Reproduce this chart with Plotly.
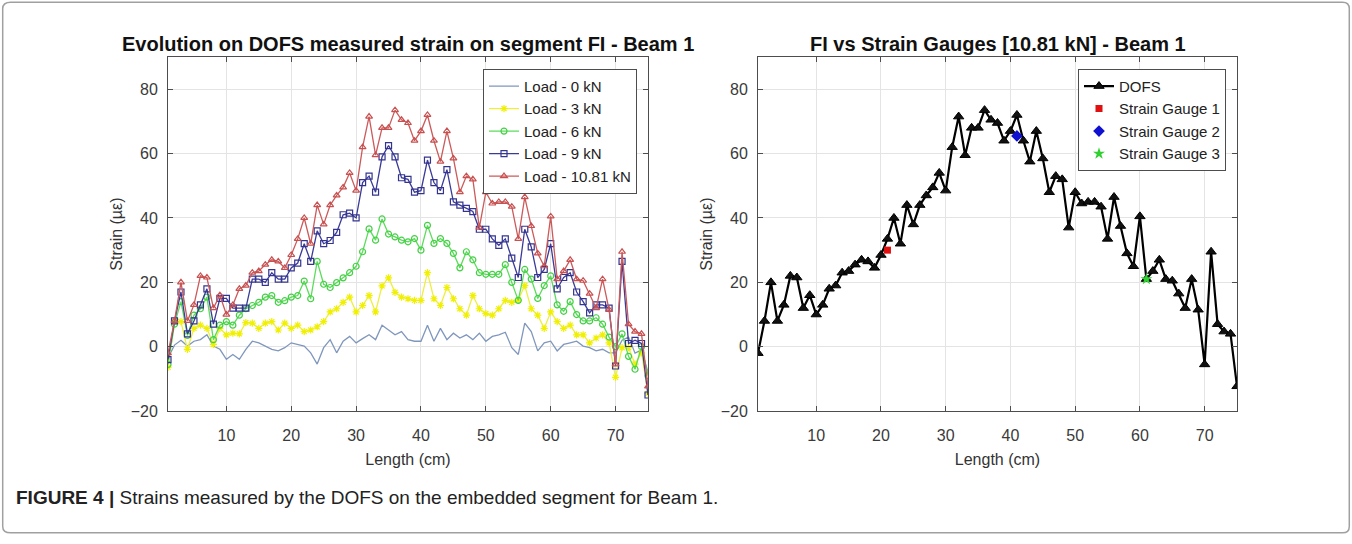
import plotly.graph_objects as go

length_cm = list(range(1, 76))

load_0kn = [-3.5, 0.5, 2.0, 0.2, 1.7, 2.2, 3.7, 0.2, -0.8, -3.9, -2.4, -3.9, -0.8, 1.7, 1.2,
            0.2, -0.8, -1.3, -0.3, 1.2, 0.7, 0.2, -1.9, -5.4, -0.3, 2.2, -1.9, 1.7, 3.2, 1.2,
            2.5, 3.7, 2.2, 6.7, 5.2, 3.7, 4.7, 2.2, 1.7, 1.7, 6.7, 1.7, 5.7, 2.2, 4.2,
            2.7, 3.7, 2.2, 4.2, 1.7, 3.2, 3.7, 4.5, -0.3, -2.4, 7.3, 4.7, -1.3, 1.2, 1.7,
            -1.3, 0.7, 1.2, 1.7, 0.2, -0.3, -1.3, -0.8, -1.9, -1.9, 2.0, 3.0, -2.0, -1.0, -8.0]

load_3kn = [-6.4, 7.8, 7.8, -0.8, 5.7, 6.7, 5.7, 0.7, 5.7, 3.7, 4.2, 4.0, 7.5, 7.3, 5.7,
            7.3, 7.8, 5.2, 7.3, 5.7, 6.7, 4.7, 5.2, 6.2, 7.8, 10.8, 11.8, 13.8, 15.4, 10.8,
            12.8, 15.9, 10.8, 18.9, 21.4, 16.9, 15.4, 14.9, 14.4, 14.4, 23.0, 14.9, 12.8, 18.4, 14.9,
            11.8, 9.8, 15.9, 11.8, 10.3, 9.8, 11.8, 14.4, 13.8, 14.5, 19.0, 11.8, 9.8, 5.7, 10.8,
            7.8, 5.7, 6.7, 3.7, 3.7, 1.2, 2.7, 3.7, 1.2, -9.5, -0.3, -0.3, -5.4, -1.9, -14.5]

load_6kn = [-5.5, 7.0, 14.0, 3.5, 9.8, 11.8, 15.4, 2.2, 6.7, 7.8, 6.7, 9.8, 11.8, 12.8, 13.8,
            15.4, 15.9, 13.8, 14.3, 15.4, 15.9, 20.4, 14.9, 26.5, 19.4, 18.4, 19.9, 21.4, 23.0, 25.0,
            29.5, 36.6, 33.1, 39.7, 35.0, 34.1, 33.1, 32.6, 33.6, 30.0, 37.7, 32.1, 33.6, 32.1, 29.0,
            24.5, 29.5, 27.0, 23.0, 22.5, 22.5, 22.5, 25.5, 20.0, 14.4, 24.0, 21.0, 15.0, 19.0, 22.0,
            13.0, 11.0, 14.0, 10.0, 8.0, 8.0, 9.0, 7.0, 3.0, 0.0, 4.0, -3.0, -7.0, 0.0, -9.0]

load_9kn = [-4.0, 8.0, 17.0, 4.0, 8.0, 13.0, 18.0, 7.0, 15.0, 15.0, 12.0, 12.0, 12.0, 21.0, 21.0,
            20.0, 23.0, 21.0, 21.0, 24.5, 26.0, 32.0, 26.5, 36.0, 32.0, 33.0, 35.5, 41.0, 41.5, 40.0,
            51.0, 53.0, 48.0, 59.0, 62.5, 59.0, 52.5, 52.0, 48.0, 48.5, 58.0, 51.0, 48.5, 55.0, 45.0,
            44.0, 43.0, 42.0, 36.5, 36.5, 33.5, 31.5, 33.5, 27.5, 21.5, 36.5, 31.0, 21.5, 24.0, 32.0,
            18.0, 21.5, 23.0, 17.0, 14.0, 10.5, 13.0, 13.0, 12.0, -6.0, 26.5, 1.0, 2.0, 1.0, -15.0]

load_1081kn = [-2.0, 8.0, 20.0, 8.0, 13.0, 22.0, 21.5, 12.0, 16.0, 10.0, 13.0, 18.0, 19.0, 23.0, 23.5,
               25.5, 27.0, 26.5, 24.5, 28.5, 33.5, 40.0, 32.0, 44.0, 38.0, 44.0, 47.0, 49.5, 54.0, 48.5,
               62.0, 71.5, 59.5, 68.0, 68.0, 73.5, 70.5, 69.5, 64.0, 67.0, 72.0, 64.0, 57.5, 67.0, 58.5,
               48.0, 53.0, 52.0, 37.0, 48.0, 44.5, 45.0, 45.0, 43.5, 33.5, 46.5, 37.5, 29.0, 25.0, 40.5,
               21.0, 23.5, 27.0, 21.0, 20.5, 16.5, 12.0, 21.0, 11.5, -5.5, 29.5, 7.0, 4.7, 4.0, -12.3]

gauge_names = ["Strain Gauge 1", "Strain Gauge 2", "Strain Gauge 3"]
gauge_x = [21, 41, 61]
gauge_y = [30.0, 65.5, 21.0]

x_ticks = [10, 20, 30, 40, 50, 60, 70]
y_ticks = [-20, 0, 20, 40, 60, 80]

FONT = "Liberation Sans, Arial, sans-serif"
fig = go.Figure()

series = [
    ("Load - 0 kN", load_0kn, "#7f97bd", None, None),
    ("Load - 3 kN", load_3kn, "#eeee40", "asterisk-open", "#f0f000"),
    ("Load - 6 kN", load_6kn, "#5bdc5b", "circle-open", "#44d044"),
    ("Load - 9 kN", load_9kn, "#3a3a98", "square-open", "#34348f"),
    ("Load - 10.81 kN", load_1081kn, "#cc5a5a", "triangle-up-open", "#c85050"),
]
for name, vals, lc, sym, mc in series:
    kw = dict(x=length_cm, y=vals, name=name, xaxis="x", yaxis="y", legend="legend",
              line=dict(color=lc, width=1.3))
    if sym is None:
        kw["mode"] = "lines"
    else:
        kw["mode"] = "lines+markers"
        kw["marker"] = dict(symbol=sym, size=6, color=mc, line=dict(color=mc, width=1.2))
    fig.add_trace(go.Scatter(**kw))

fig.add_trace(go.Scatter(x=length_cm, y=load_1081kn, name="DOFS", mode="lines+markers",
                         xaxis="x2", yaxis="y2", legend="legend2",
                         line=dict(color="black", width=2.2),
                         marker=dict(symbol="triangle-up", size=9, color="#111111",
                                     line=dict(color="black", width=1))))
g_style = [("square", "#e01010", 7), ("diamond", "#1010d0", 9), ("star", "#30d030", 9)]
for nm, gx, gy, (sym, col, sz) in zip(gauge_names, gauge_x, gauge_y, g_style):
    fig.add_trace(go.Scatter(x=[gx], y=[gy], name=nm, mode="markers", xaxis="x2", yaxis="y2",
                             legend="legend2",
                             marker=dict(symbol=sym, size=sz, color=col)))

W, H = 1352, 544
L1, R1 = 168 / W, 648 / W
L2, R2 = 758 / W, 1237 / W
YB, YT = 1 - 418 / H, 1 - 58 / H

axis_common = dict(showgrid=True, gridcolor="#e4e4e4", gridwidth=1, zeroline=False,
                   showline=True, linecolor="#4d4d4d", linewidth=1, mirror="ticks",
                   ticks="inside", ticklen=5, tickcolor="#4d4d4d",
                   tickfont=dict(family=FONT, size=16, color="#3a3a3a"))

fig.update_layout(
    width=W, height=H, margin=dict(l=0, r=0, t=0, b=0),
    paper_bgcolor="white", plot_bgcolor="white",
    font=dict(family=FONT, color="#333333"),
    xaxis=dict(domain=[L1, R1], range=[1, 75], tickvals=x_ticks, anchor="y",
               ticklabelstandoff=10,
               title=dict(text="Length (cm)", font=dict(size=16), standoff=10), **axis_common),
    yaxis=dict(domain=[YB, YT], range=[-20, 90], tickvals=y_ticks, anchor="x",
               ticklabelstandoff=6,
               title=dict(text="Strain (µε)", font=dict(size=16), standoff=4), **axis_common),
    xaxis2=dict(domain=[L2, R2], range=[1, 75], tickvals=x_ticks, anchor="y2",
                ticklabelstandoff=10,
                title=dict(text="Length (cm)", font=dict(size=16), standoff=10), **axis_common),
    yaxis2=dict(domain=[YB, YT], range=[-20, 90], tickvals=y_ticks, anchor="x2",
                ticklabelstandoff=6,
                title=dict(text="Strain (µε)", font=dict(size=16), standoff=4), **axis_common),
    legend=dict(x=637 / W, y=1 - 70 / H, xanchor="right", yanchor="top",
                bgcolor="white", bordercolor="#4d4d4d", borderwidth=1,
                font=dict(family=FONT, size=15, color="#222222"), tracegroupgap=0,
                itemwidth=30),
    legend2=dict(x=1226 / W, y=1 - 70 / H, xanchor="right", yanchor="top",
                 bgcolor="white", bordercolor="#4d4d4d", borderwidth=1,
                 font=dict(family=FONT, size=15, color="#222222"), tracegroupgap=0,
                 itemwidth=30),
    showlegend=True,
)

fig.add_annotation(text="<b>Evolution on DOFS measured strain on segment FI - Beam 1</b>",
                   x=(L1 + R1) / 2, y=1 - 45 / H, xref="paper", yref="paper",
                   xanchor="center", yanchor="middle",
                   showarrow=False, font=dict(family=FONT, size=20, color="#111111"))
fig.add_annotation(text="<b>FI vs Strain Gauges [10.81 kN] - Beam 1</b>",
                   x=(L2 + R2) / 2, y=1 - 45 / H, xref="paper", yref="paper",
                   xanchor="center", yanchor="middle",
                   showarrow=False, font=dict(family=FONT, size=20, color="#111111"))
fig.add_annotation(text="<b>FIGURE 4 |</b> Strains measured by the DOFS on the embedded segment for Beam 1.",
                   x=14 / W, y=1 - 506 / H, xref="paper", yref="paper", xanchor="left",
                   yanchor="middle",
                   showarrow=False, font=dict(family=FONT, size=19, color="#222222"))

fig.add_shape(type="path", xref="paper", yref="paper",
              path="M 0.008,0.004 L 0.993,0.004 Q 0.998,0.004 0.998,0.016 L 0.998,0.984 "
                   "Q 0.998,0.996 0.993,0.996 L 0.008,0.996 Q 0.002,0.996 0.002,0.984 "
                   "L 0.002,0.016 Q 0.002,0.004 0.008,0.004 Z",
              line=dict(color="#a0a0a0", width=1.5))

fig.write_html("out.html", config={"displayModeBar": False},
               post_script="document.body.style.margin='0px';"
                           "document.body.style.overflow='hidden';")
